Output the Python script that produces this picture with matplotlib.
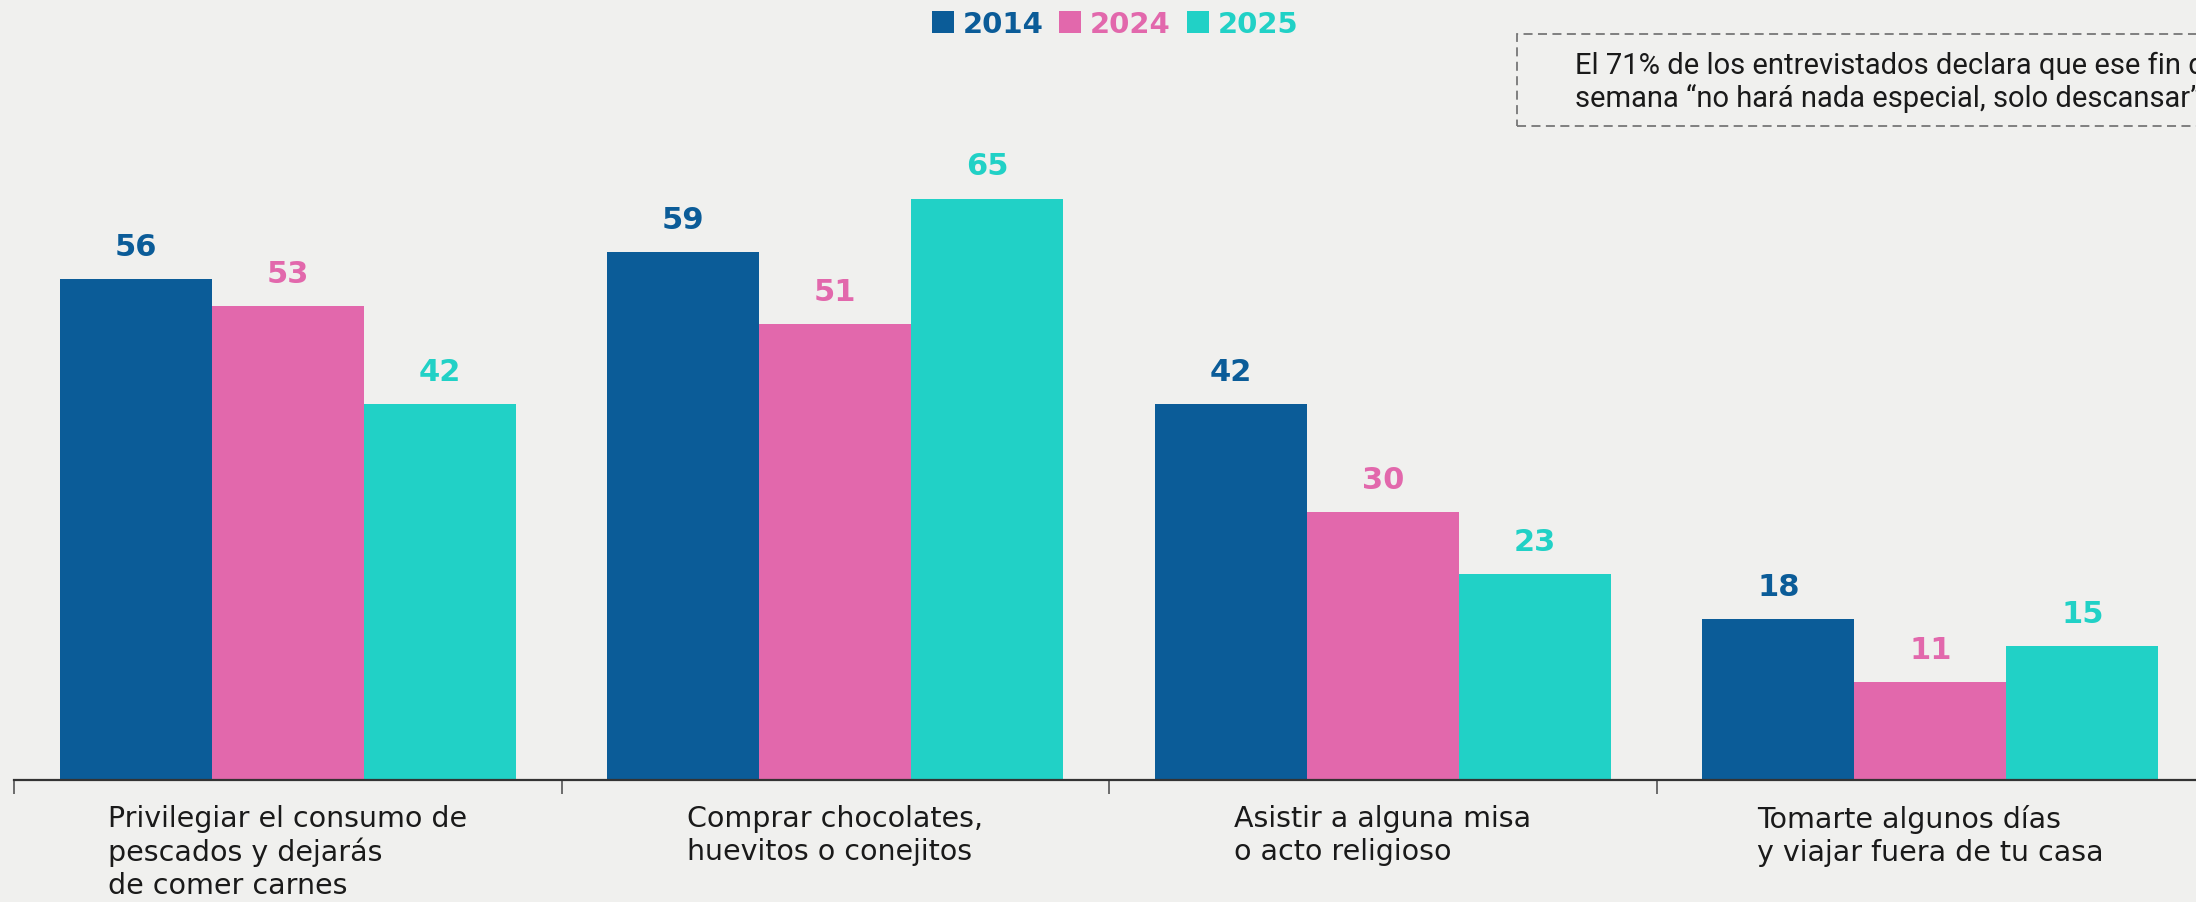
import matplotlib.pyplot as plt
from matplotlib.patches import Patch, Rectangle
import numpy as np

categories = [
    "Privilegiar el consumo de\npescados y dejarás\nde comer carnes",
    "Comprar chocolates,\nhuevitos o conejitos",
    "Asistir a alguna misa\no acto religioso",
    "Tomarte algunos días\ny viajar fuera de tu casa",
]
years = ["2014", "2024", "2025"]
v2014 = [56, 59, 42, 18]
v2024 = [53, 51, 30, 11]
v2025 = [42, 65, 23, 15]
colors = ["#0B5C98", "#E268AC", "#21D1C6"]
note = "El 71% de los entrevistados declara que ese fin de\nsemana “no hará nada especial, solo descansar”"

bg = "#F0F0EE"
fig = plt.figure(figsize=(21.96, 9.03), dpi=100, facecolor=bg)
ax = fig.add_axes([0.0064, 0.135, 0.9973, 0.865])
ax.set_facecolor(bg)

x = np.arange(len(categories))
w = 0.2775
series = [v2014, v2024, v2025]
for k, (vals, col) in enumerate(zip(series, colors)):
    xs = x + (k - 1) * w
    ax.bar(xs, vals, width=w, color=col, edgecolor="none")
    for xi, v in zip(xs, vals):
        ax.annotate(str(v), (xi, v), xytext=(0, 13), textcoords="offset points",
                    ha="center", va="bottom", fontsize=22, fontweight="bold",
                    color=col, family="DejaVu Sans")

ax.set_xlim(-0.5, 3.5)
ax.set_ylim(0, 87.3)
ax.set_yticks([])
for s in ["left", "right", "top"]:
    ax.spines[s].set_visible(False)
ax.spines["bottom"].set_color("#333333")
ax.spines["bottom"].set_linewidth(1.6)
ax.set_xticks(np.arange(-0.5, 4, 1))
ax.set_xticklabels([])
ax.tick_params(axis="x", length=10, width=1.2, color="#555555")

for xi, lab in zip(x, categories):
    ax.annotate(lab, (xi, 0), xytext=(0, -17), textcoords="offset points",
                ha="center", va="top", multialignment="left", fontsize=20.5,
                color="#1a1a1a", linespacing=1.22, family="DejaVu Sans",
                annotation_clip=False)

# legend
handles = [Patch(facecolor=c, edgecolor="none") for c in colors]
leg = fig.legend(handles, years, loc="center", bbox_to_anchor=(0.5077, 0.972),
                 ncol=3, frameon=False, handlelength=0.75, handleheight=0.75,
                 handletextpad=0.3, columnspacing=0.55,
                 prop={"size": 21, "weight": "bold", "family": "DejaVu Sans"})
for t, c in zip(leg.get_texts(), colors):
    t.set_color(c)

# note box
box = Rectangle((0.691, 0.859), 0.35, 0.102, transform=fig.transFigure,
                facecolor="none", edgecolor="#777777", linewidth=1.3,
                linestyle=(0, (5, 3)), clip_on=False)
fig.patches.append(box)
fig.text(0.717, 0.909, note, ha="left", va="center", fontsize=21,
         color="#1a1a1a", family="Roboto", linespacing=1.18)

fig.savefig("out.png", dpi=100, facecolor=bg)
